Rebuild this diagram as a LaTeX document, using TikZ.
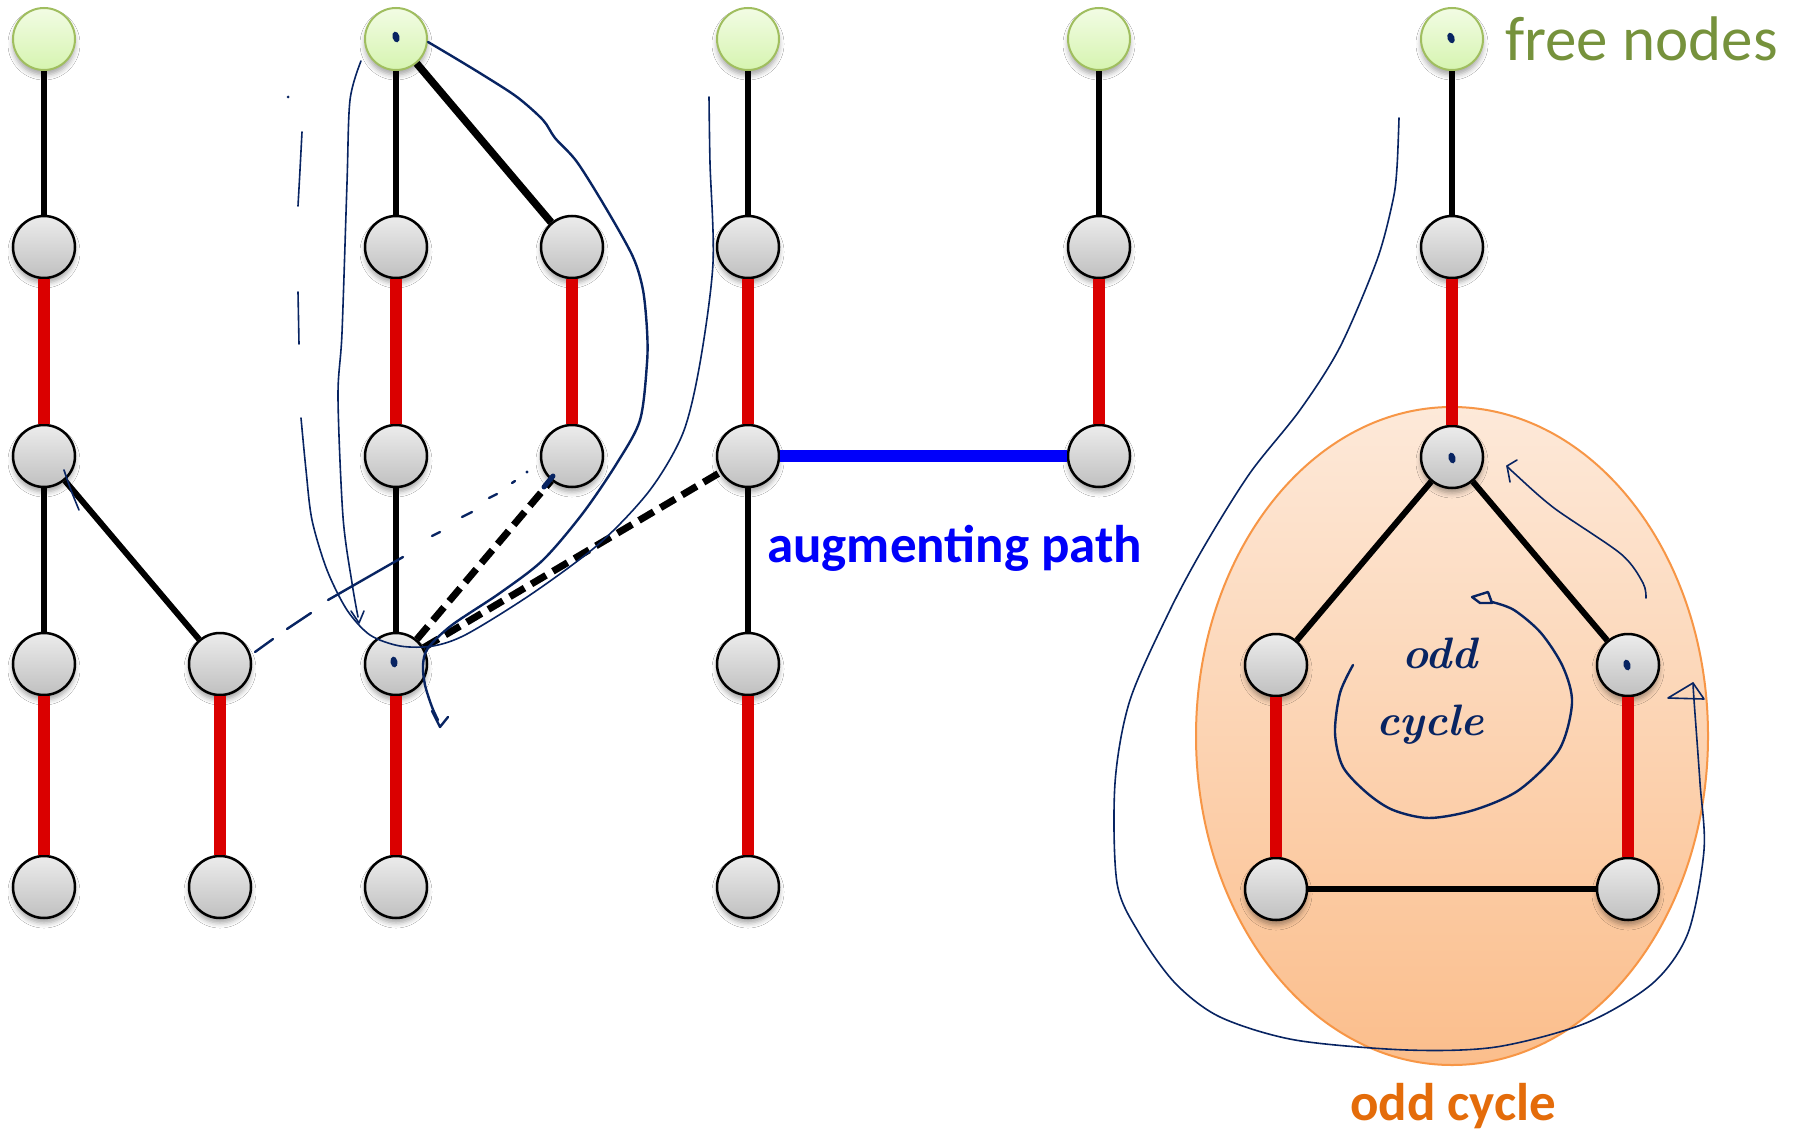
\documentclass[tikz,border=0pt]{standalone}
\usepackage{fontspec}
\newfontfamily\labelfont{Carlito}
\usetikzlibrary{shadows.blur,shapes.geometric}

\definecolor{ink}{RGB}{8,36,98}
\definecolor{matchred}{RGB}{218,0,0}
\definecolor{pathblue}{RGB}{0,0,250}
\definecolor{freetext}{RGB}{118,146,60}
\definecolor{freeedge}{RGB}{160,190,95}
\definecolor{freetop}{RGB}{242,252,228}
\definecolor{freebot}{RGB}{214,244,176}
\definecolor{vtop}{RGB}{236,236,236}
\definecolor{vbot}{RGB}{192,192,192}
\definecolor{cyctext}{RGB}{228,108,10}
\definecolor{blobedge}{RGB}{247,150,70}
\definecolor{blobtop}{RGB}{253,233,217}
\definecolor{blobbot}{RGB}{251,190,140}

\tikzset{
  vertex/.style={circle, minimum size=62pt, inner sep=0pt, draw=black,
    line width=2.5pt, top color=vtop, bottom color=vbot,
    blur shadow={shadow xshift=0pt, shadow yshift=-5pt,
      shadow blur radius=5pt, shadow opacity=35}},
  freevertex/.style={vertex, draw=freeedge, line width=2pt,
    top color=freetop, bottom color=freebot},
  unmatched/.style={line width=6pt, black},
  treeedge/.style={line width=7.5pt, black},
  matched/.style={line width=11.5pt, matchred},
  augment/.style={line width=11.5pt, pathblue},
  probe/.style={line width=7pt, black, dash pattern=on 17pt off 8pt},
  inkline/.style={ink, line width=1.6pt, line cap=round, line join=round},
  inkbold/.style={inkline, line width=2.4pt},
  inkdot/.style={ink, fill=ink, inner sep=0pt, ellipse, minimum width=7pt, minimum height=11pt},
  caption/.style={anchor=base west, inner sep=0pt},
  handwriting/.style={caption, text=ink, font=\bfseries\itshape\fontsize{44}{48}\selectfont}
}

\begin{document}
\begin{tikzpicture}[x=1pt, y=-1pt]
\useasboundingbox (0,0) rectangle (1798,1134);
\fill[white] (0,0) rectangle (1798,1134);

% blossom region
\node[ellipse, minimum width=512pt, minimum height=658pt, inner sep=0pt,
      draw=blobedge, line width=2pt, top color=blobtop, bottom color=blobbot]
      (blob) at (1452,736) {};

% free (exposed) vertices
\node[freevertex] (f1) at (44,39) {};
\node[freevertex] (f3) at (396,39) {};
\node[freevertex] (f5) at (748,39) {};
\node[freevertex] (f6) at (1099,39) {};
\node[freevertex] (f7) at (1452,39) {};

% tree vertices
\node[vertex] (a2) at (44,247) {};
\node[vertex] (a3) at (44,456) {};
\node[vertex] (a4) at (44,664) {};
\node[vertex] (a5) at (44,887) {};
\node[vertex] (b4) at (220,664) {};
\node[vertex] (b5) at (220,887) {};
\node[vertex] (c2) at (396,247) {};
\node[vertex] (c3) at (396,456) {};
\node[vertex] (c4) at (396,664) {};
\node[vertex] (c5) at (396,887) {};
\node[vertex] (d2) at (572,247) {};
\node[vertex] (d3) at (572,456) {};
\node[vertex] (e2) at (748,247) {};
\node[vertex] (e3) at (748,456) {};
\node[vertex] (e4) at (748,664) {};
\node[vertex] (e5) at (748,887) {};
\node[vertex] (g2) at (1099,247) {};
\node[vertex] (g3) at (1099,456) {};
\node[vertex] (h2) at (1452,247) {};
\node[vertex] (ht) at (1452,457) {};
\node[vertex] (hl) at (1276,665) {};
\node[vertex] (hr) at (1628,665) {};
\node[vertex] (hbl) at (1276,889) {};
\node[vertex] (hbr) at (1628,889) {};

% unmatched edges
\foreach \u/\v in {f1/a2, a3/a4, a3/b4, f3/c2, c3/c4, f5/e2, e3/e4, f6/g2,
                   f7/h2, ht/hl, ht/hr, hbl/hbr}
  \draw[unmatched] (\u) -- (\v);
\draw[treeedge] (f3) -- (d2);

% matched edges
\foreach \u/\v in {a2/a3, a4/a5, b4/b5, c2/c3, c4/c5, d2/d3, e2/e3, e4/e5,
                   g2/g3, h2/ht, hl/hbl, hr/hbr}
  \draw[matched] (\u) -- (\v);

% augmenting edge and explored edges
\draw[augment] (e3) -- (g3);
\draw[probe] (c4) -- (d3);
\draw[probe] (c4) -- (e3);

% labels
\node[caption, text=freetext, font=\labelfont\fontsize{63}{70}\selectfont]
  (lblfree) at (1505,61) {free nodes};
\node[caption, text=pathblue, font=\labelfont\bfseries\fontsize{53}{60}\selectfont]
  (lblpath) at (767,562) {augmenting path};
\node[caption, text=cyctext, font=\labelfont\bfseries\fontsize{53}{60}\selectfont]
  (lblcycle) at (1350,1120) {odd cycle};

% ---- pen annotations ----
\node[inkdot, rotate=15] (m1) at (396,37) {};
\node[inkdot, rotate=10] (m2) at (394,662) {};
\node[inkdot, rotate=15] (m3) at (1452,458) {};
\node[inkdot, rotate=15] (m4) at (1627,665) {};
\node[inkdot, rotate=20] (m5) at (1451,38) {};

% search from the left free vertex
\draw[inkline] plot[smooth] coordinates {(361,61) (350,100) (347,183) (342,333)
  (338,397) (343,517) (352,583) (358,617)};
\draw[inkline] (351,611) -- (359,623) -- (364,611);

% long loop around the middle tree
\draw[inkline] plot[smooth] coordinates {(302,132) (300,170) (298,206)};
\draw[inkline] (298,292) -- (299,344);
\fill[ink] (288,97) circle (1.5pt);
\draw[inkline] plot[smooth] coordinates {(301,418) (306,470) (312,520) (327,570)
  (347,610) (370,635) (400,646) (433,646) (467,634) (533,593) (600,543)
  (650,490) (683,433) (700,363) (713,263) (710,163) (709,97)};

\draw[inkbold] plot[smooth] coordinates {(428,42) (450,55) (483,75) (517,97)
  (543,120) (555,138) (577,162) (607,210) (633,257) (643,290) (647,330)
  (647,363) (640,420) (617,463) (583,513) (543,560) (500,593) (452,625)
  (428,648) (423,665) (425,685) (432,707) (438,720)};
\draw[inkbold] (432,711) -- (440,727) -- (448,717);

% hand-dashed probe towards the middle tree
\foreach \p/\q in {{(255,652)}/{(273,639)}, {(287,629)}/{(311,613)},
                   {(328,600)}/{(403,557)}, {(432,536)}/{(440,532)},
                   {(462,517)}/{(472,512)}, {(489,498)}/{(497,494)},
                   {(512,483)}/{(515,481)}}
  \draw[inkbold] \p -- \q;
\fill[ink] (527,472) circle (1.6pt);
\draw[inkline, line width=5pt] (544,487) -- (553,476);
\draw[inkline] (64,470) .. controls (70,488) .. (79,510);

% loop around the blossom
\draw[inkline] plot[smooth] coordinates {(1399,118) (1397,167) (1393,200)
  (1377,260) (1340,347) (1300,410) (1250,473) (1205,545) (1170,610)
  (1130,700) (1115,783) (1117,883) (1139,933) (1175,983) (1220,1017)
  (1295,1040) (1407,1050) (1496,1047) (1586,1023) (1653,983) (1688,933)
  (1704,850) (1700,783) (1694,700) (1693,683)};
\draw[inkline] (1668,698) -- (1693,683) -- (1704,699) -- cycle;

% walk up the blossom
\draw[inkline] plot[smooth] coordinates {(1646,598) (1643,583) (1621,554)
  (1554,508) (1514,473) (1507,466)};
\draw[inkline] (1510,482) -- (1507,466) -- (1517,460);

% circulation inside the blossom
\draw[inkbold] plot[smooth] coordinates {(1353,665) (1340,693) (1335,733)
  (1343,767) (1367,793) (1393,810) (1429,818) (1474,810) (1519,790)
  (1559,750) (1572,703) (1563,667) (1541,633) (1514,610) (1492,602)};
\draw[inkbold] (1492,603) -- (1480,603) -- (1472,597) -- (1488,592) -- cycle;
\node[handwriting] (handodd) at (1402,668) {odd};
\node[handwriting] (handcycle) at (1376,735) {cycle};
\end{tikzpicture}
\end{document}
